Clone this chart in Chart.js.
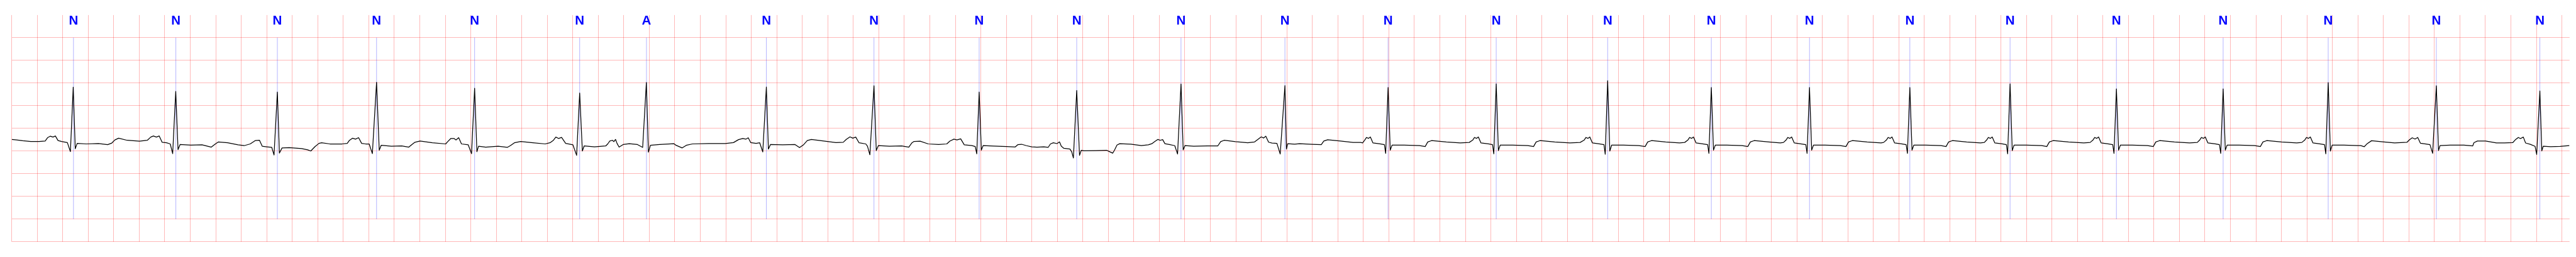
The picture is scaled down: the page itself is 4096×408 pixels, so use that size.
<!DOCTYPE html>
<html>
<head>
<meta charset="utf-8">
<script src="https://cdn.jsdelivr.net/npm/chart.js@4.4.1/dist/chart.umd.min.js"></script>
<style>
  html, body { margin: 0; padding: 0; background: #fff; }
  canvas { display: block; }
</style>
</head>
<body>
<canvas id="ecgChart" width="4096" height="408"></canvas>
<script>
// beat annotations: time of the mark (s) and its label
var beatTimes = [0.484, 1.287, 2.083, 2.861, 3.630, 4.454, 4.978, 5.918, 6.762, 7.587,
                 8.352, 9.170, 9.985, 10.794, 11.642, 12.516, 13.329, 14.099, 14.886, 15.672,
                 16.506, 17.343, 18.167, 19.015, 19.827];
var beatLabels = ['N', 'N', 'N', 'N', 'N', 'N', 'A', 'N', 'N', 'N',
                  'N', 'N', 'N', 'N', 'N', 'N', 'N', 'N', 'N', 'N',
                  'N', 'N', 'N', 'N', 'N'];

// axis ranges (s, mV)
var timeRange = [0, 20.06];
var mvRange = [-2.5, 2.0];
var markRange = [-2.0, 2.0];

// ECG trace: [time s, mV]
var ecgSignal = [
  [0.000,-0.243],[0.037,-0.255],[0.085,-0.273],[0.149,-0.288],[0.214,-0.288],[0.262,-0.278],
  [0.281,-0.205],[0.302,-0.172],[0.323,-0.192],[0.342,-0.167],[0.363,-0.268],[0.391,-0.288],
  [0.436,-0.313],[0.460,-0.512],[0.482,0.908],[0.498,-0.449],[0.513,-0.331],[0.584,-0.343],
  [0.680,-0.333],[0.752,-0.358],[0.785,-0.323],[0.809,-0.255],[0.838,-0.217],[0.905,-0.263],
  [1.002,-0.283],[1.063,-0.263],[1.090,-0.192],[1.111,-0.167],[1.134,-0.192],[1.156,-0.167],
  [1.179,-0.306],[1.214,-0.318],[1.243,-0.343],[1.262,-0.557],[1.286,0.815],[1.304,-0.469],
  [1.320,-0.356],[1.404,-0.368],[1.492,-0.363],[1.565,-0.413],[1.597,-0.343],[1.621,-0.298],
  [1.693,-0.318],[1.774,-0.363],[1.822,-0.381],[1.870,-0.343],[1.911,-0.268],[1.943,-0.263],
  [1.964,-0.393],[1.999,-0.406],[2.039,-0.419],[2.057,-0.587],[2.083,0.802],[2.099,-0.545],
  [2.120,-0.431],[2.176,-0.424],[2.273,-0.444],[2.321,-0.474],[2.345,-0.499],[2.377,-0.406],
  [2.409,-0.331],[2.430,-0.318],[2.495,-0.343],[2.591,-0.343],[2.631,-0.331],[2.647,-0.268],
  [2.672,-0.217],[2.696,-0.238],[2.720,-0.205],[2.744,-0.331],[2.776,-0.343],[2.803,-0.343],
  [2.828,-0.557],[2.861,1.016],[2.882,-0.481],[2.897,-0.373],[2.977,-0.393],[3.058,-0.388],
  [3.114,-0.413],[3.138,-0.356],[3.162,-0.306],[3.202,-0.280],[3.299,-0.318],[3.403,-0.343],
  [3.419,-0.293],[3.444,-0.222],[3.468,-0.222],[3.484,-0.255],[3.505,-0.205],[3.527,-0.343],
  [3.580,-0.363],[3.606,-0.557],[3.630,0.885],[3.648,-0.514],[3.661,-0.393],[3.717,-0.413],
  [3.814,-0.393],[3.886,-0.419],[3.910,-0.381],[3.942,-0.318],[3.991,-0.288],[4.087,-0.318],
  [4.184,-0.343],[4.224,-0.313],[4.248,-0.263],[4.267,-0.192],[4.288,-0.222],[4.312,-0.200],
  [4.344,-0.331],[4.401,-0.363],[4.430,-0.595],[4.454,0.779],[4.475,-0.499],[4.489,-0.388],
  [4.570,-0.406],[4.658,-0.388],[4.674,-0.343],[4.690,-0.280],[4.711,-0.263],[4.722,-0.293],
  [4.735,-0.243],[4.747,-0.331],[4.763,-0.413],[4.795,-0.356],[4.843,-0.338],[4.907,-0.356],
  [4.948,-0.419],[4.977,1.011],[4.993,-0.524],[5.009,-0.373],[5.081,-0.356],[5.194,-0.338],
  [5.210,-0.373],[5.258,-0.431],[5.290,-0.373],[5.338,-0.343],[5.467,-0.333],[5.596,-0.333],
  [5.660,-0.313],[5.700,-0.248],[5.733,-0.222],[5.757,-0.238],[5.776,-0.208],[5.795,-0.313],
  [5.837,-0.331],[5.866,-0.318],[5.890,-0.519],[5.918,0.910],[5.934,-0.456],[5.950,-0.356],
  [6.046,-0.363],[6.143,-0.356],[6.178,-0.424],[6.207,-0.368],[6.239,-0.268],[6.271,-0.243],
  [6.368,-0.280],[6.464,-0.313],[6.521,-0.306],[6.545,-0.243],[6.574,-0.187],[6.596,-0.217],
  [6.619,-0.192],[6.645,-0.318],[6.698,-0.343],[6.711,-0.393],[6.730,-0.582],[6.762,0.940],
  [6.780,-0.489],[6.796,-0.381],[6.883,-0.393],[6.979,-0.388],[7.035,-0.413],[7.060,-0.318],
  [7.076,-0.288],[7.124,-0.283],[7.188,-0.343],[7.269,-0.356],[7.333,-0.343],[7.357,-0.280],
  [7.389,-0.238],[7.413,-0.255],[7.442,-0.230],[7.470,-0.363],[7.530,-0.380],[7.556,-0.400],
  [7.568,-0.560],[7.587,0.800],[7.604,-0.480],[7.618,-0.380],[7.700,-0.390],[7.800,-0.400],
  [7.870,-0.410],[7.890,-0.360],[7.920,-0.350],[7.958,-0.381],[7.999,-0.406],[8.040,-0.414],
  [8.094,-0.406],[8.128,-0.419],[8.146,-0.343],[8.169,-0.318],[8.197,-0.336],[8.217,-0.298],
  [8.231,-0.393],[8.251,-0.439],[8.299,-0.456],[8.313,-0.519],[8.326,-0.653],[8.352,0.835],
  [8.374,-0.595],[8.388,-0.482],[8.408,-0.494],[8.504,-0.489],[8.586,-0.482],[8.613,-0.519],
  [8.634,-0.545],[8.648,-0.482],[8.668,-0.368],[8.689,-0.338],[8.777,-0.348],[8.859,-0.381],
  [8.914,-0.363],[8.941,-0.338],[8.962,-0.293],[8.989,-0.243],[9.007,-0.263],[9.026,-0.248],
  [9.044,-0.338],[9.078,-0.356],[9.121,-0.381],[9.143,-0.565],[9.170,0.978],[9.187,-0.474],
  [9.201,-0.381],[9.269,-0.393],[9.378,-0.388],[9.458,-0.388],[9.481,-0.293],[9.508,-0.263],
  [9.597,-0.293],[9.693,-0.318],[9.747,-0.298],[9.775,-0.238],[9.799,-0.187],[9.818,-0.212],
  [9.835,-0.172],[9.857,-0.305],[9.884,-0.323],[9.922,-0.331],[9.948,-0.565],[9.985,0.941],
  [9.997,-0.456],[10.007,-0.338],[10.061,-0.348],[10.100,-0.338],[10.200,-0.350],[10.270,-0.360],
  [10.290,-0.280],[10.320,-0.250],[10.420,-0.280],[10.520,-0.310],[10.580,-0.310],
  [10.594,-0.320],[10.610,-0.260],[10.625,-0.200],[10.640,-0.220],[10.655,-0.190],[10.675,-0.320],
  [10.730,-0.340],[10.765,-0.360],[10.775,-0.550],[10.794,0.900],[10.811,-0.480],[10.825,-0.370],
  [10.920,-0.370],[11.040,-0.380],[11.085,-0.400],[11.105,-0.300],[11.135,-0.270],[11.250,-0.300],
  [11.360,-0.320],[11.430,-0.310],
  [11.457,-0.260],[11.472,-0.200],[11.487,-0.220],[11.502,-0.190],[11.522,-0.320],[11.580,-0.340],
  [11.613,-0.360],[11.623,-0.560],[11.642,0.980],[11.659,-0.490],[11.673,-0.370],[11.770,-0.370],
  [11.890,-0.380],[11.935,-0.400],[11.955,-0.300],[11.985,-0.270],[12.100,-0.300],[12.220,-0.320],
  [12.300,-0.310],
  [12.331,-0.260],[12.346,-0.200],[12.361,-0.220],[12.376,-0.190],[12.396,-0.320],[12.450,-0.340],
  [12.487,-0.360],[12.497,-0.570],[12.516,1.050],[12.533,-0.500],[12.547,-0.370],[12.640,-0.370],
  [12.760,-0.380],[12.810,-0.400],[12.830,-0.300],[12.860,-0.270],[12.970,-0.300],[13.080,-0.320],
  [13.120,-0.310],
  [13.144,-0.260],[13.159,-0.200],[13.174,-0.220],[13.189,-0.190],[13.209,-0.320],[13.260,-0.340],
  [13.300,-0.360],[13.310,-0.550],[13.329,0.900],[13.346,-0.480],[13.360,-0.370],[13.450,-0.370],
  [13.570,-0.380],[13.615,-0.400],[13.635,-0.300],[13.665,-0.270],[13.780,-0.300],[13.870,-0.320],
  [13.895,-0.310],
  [13.914,-0.260],[13.929,-0.200],[13.944,-0.220],[13.959,-0.190],[13.979,-0.320],[14.030,-0.340],
  [14.070,-0.360],[14.080,-0.550],[14.099,0.900],[14.116,-0.480],[14.130,-0.370],[14.220,-0.370],
  [14.340,-0.380],[14.385,-0.400],[14.405,-0.300],[14.435,-0.270],[14.550,-0.300],[14.660,-0.320],
  [14.680,-0.310],
  [14.701,-0.260],[14.716,-0.200],[14.731,-0.220],[14.746,-0.190],[14.766,-0.320],[14.820,-0.340],
  [14.857,-0.360],[14.867,-0.550],[14.886,0.900],[14.903,-0.480],[14.917,-0.370],[15.010,-0.370],
  [15.130,-0.380],[15.170,-0.400],[15.190,-0.300],[15.220,-0.270],[15.330,-0.300],[15.440,-0.320],
  [15.470,-0.310],
  [15.487,-0.260],[15.502,-0.200],[15.517,-0.220],[15.532,-0.190],[15.552,-0.320],[15.610,-0.340],
  [15.643,-0.360],[15.653,-0.560],[15.672,0.980],[15.689,-0.490],[15.703,-0.370],[15.800,-0.370],
  [15.920,-0.380],[15.960,-0.400],[15.980,-0.300],[16.010,-0.270],[16.130,-0.300],[16.250,-0.320],
  [16.300,-0.310],
  [16.321,-0.260],[16.336,-0.200],[16.351,-0.220],[16.366,-0.190],[16.386,-0.320],[16.440,-0.340],
  [16.477,-0.360],[16.487,-0.550],[16.506,0.870],[16.523,-0.480],[16.537,-0.370],[16.630,-0.370],
  [16.750,-0.380],[16.795,-0.400],[16.815,-0.300],[16.845,-0.270],[16.960,-0.300],[17.080,-0.320],
  [17.140,-0.310],
  [17.158,-0.260],[17.173,-0.200],[17.188,-0.220],[17.203,-0.190],[17.223,-0.320],[17.280,-0.340],
  [17.314,-0.360],[17.324,-0.550],[17.343,0.870],[17.360,-0.480],[17.374,-0.370],[17.470,-0.370],
  [17.590,-0.380],[17.635,-0.400],[17.655,-0.300],[17.685,-0.270],[17.800,-0.300],[17.920,-0.320],
  [17.960,-0.310],
  [17.982,-0.260],[17.997,-0.200],[18.012,-0.220],[18.027,-0.190],[18.047,-0.320],[18.100,-0.340],
  [18.138,-0.360],[18.148,-0.560],[18.167,1.010],[18.184,-0.500],[18.198,-0.370],[18.290,-0.370],
  [18.400,-0.380],[18.422,-0.380],[18.449,-0.405],[18.470,-0.344],[18.507,-0.272],[18.592,-0.297],
  [18.688,-0.322],[18.784,-0.308],[18.805,-0.250],[18.826,-0.207],[18.848,-0.236],[18.869,-0.200],
  [18.890,-0.326],[18.933,-0.344],[18.965,-0.358],[18.986,-0.550],[19.015,0.939],[19.032,-0.488],
  [19.044,-0.380],[19.124,-0.369],[19.231,-0.369],[19.300,-0.387],[19.310,-0.315],[19.337,-0.279],
  [19.401,-0.279],[19.486,-0.322],[19.550,-0.322],[19.614,-0.315],[19.635,-0.250],[19.658,-0.200],
  [19.675,-0.225],[19.697,-0.192],[19.715,-0.322],[19.752,-0.351],[19.789,-0.395],[19.802,-0.575],
  [19.827,0.823],[19.842,-0.496],[19.853,-0.395],[19.912,-0.405],[19.986,-0.398],[20.058,-0.380]
];

var gridColor = 'rgba(255, 0, 0, 0.28)';

// blue annotation lines under the trace, letters above the plot
var beatMarks = {
  id: 'beatMarks',
  beforeDatasetsDraw: function(chart) {
    var ctx = chart.ctx, x = chart.scales.x, y = chart.scales.y;
    var top = y.getPixelForValue(markRange[1]);
    var bottom = y.getPixelForValue(markRange[0]);
    ctx.save();
    ctx.strokeStyle = 'rgba(0, 0, 255, 0.5)';
    ctx.lineWidth = 0.6;
    beatTimes.forEach(function(t) {
      var px = x.getPixelForValue(t);
      ctx.beginPath();
      ctx.moveTo(px, top);
      ctx.lineTo(px, bottom);
      ctx.stroke();
    });
    ctx.restore();
  },
  afterDraw: function(chart) {
    var ctx = chart.ctx, x = chart.scales.x;
    ctx.save();
    ctx.fillStyle = '#0000ff';
    ctx.font = 'bold 20.5px "Liberation Sans Narrow", "Liberation Sans", Arial, sans-serif';
    ctx.textAlign = 'center';
    ctx.textBaseline = 'alphabetic';
    beatTimes.forEach(function(t, i) {
      ctx.fillText(beatLabels[i], x.getPixelForValue(t), chart.chartArea.top - 21.1);
    });
    ctx.restore();
  }
};

var ctx = document.getElementById('ecgChart').getContext('2d');
var myChart = new Chart(ctx, {
  type: 'line',
  data: {
    datasets: [{
      data: ecgSignal,
      borderColor: '#000000',
      borderWidth: 1.25,
      borderJoinStyle: 'round',
      pointRadius: 0,
      tension: 0,
      fill: false
    }]
  },
  options: {
    responsive: false,
    animation: false,
    devicePixelRatio: 1,
    layout: { padding: { top: 23.9, left: 18.7, right: 10.2, bottom: 24.1 } },
    plugins: {
      legend: { display: false },
      tooltip: { enabled: false }
    },
    scales: {
      x: {
        type: 'linear',
        position: 'top',
        min: timeRange[0],
        max: timeRange[1],
        ticks: { display: false, stepSize: 0.2, includeBounds: false },
        grid: { color: gridColor, lineWidth: 1, drawTicks: true, tickLength: 35.8 },
        border: { display: false }
      },
      y: {
        type: 'linear',
        min: mvRange[0],
        max: mvRange[1],
        ticks: { display: false, stepSize: 0.5 },
        grid: { color: gridColor, lineWidth: 1, drawTicks: false },
        border: { display: false }
      }
    }
  },
  plugins: [beatMarks]
});
</script>
</body>
</html>
